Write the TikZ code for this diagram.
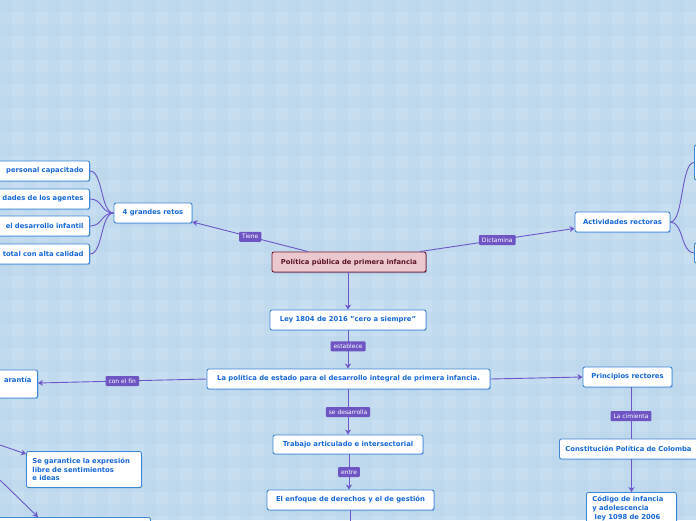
\documentclass[tikz,border=0pt]{standalone}
\usepackage{fontspec}
\setmainfont{DejaVu Sans}
\usetikzlibrary{arrows.meta,shadows,calc}
\definecolor{bgblue}{RGB}{198,222,240}
\definecolor{bandblue}{RGB}{165,198,226}
\definecolor{boxblue}{RGB}{62,135,215}
\definecolor{txtblue}{RGB}{22,104,214}
\definecolor{conn}{RGB}{108,86,200}
\definecolor{lblpurple}{RGB}{110,85,195}
\definecolor{rootfill}{RGB}{235,200,205}
\definecolor{rootdraw}{RGB}{120,30,50}
\definecolor{roottxt}{RGB}{90,20,38}
\tikzset{
  box/.style={draw=boxblue, fill=white, rounded corners=2pt, line width=0.9pt,
    minimum height=20pt, inner xsep=6pt, inner ysep=2pt,
    font=\fontsize{6.8}{8.6}\selectfont\bfseries, text=txtblue,
    drop shadow={shadow xshift=0.8pt, shadow yshift=-1pt, fill=boxblue, opacity=0.35}},
  rootbox/.style={box, draw=rootdraw, fill=rootfill, text=roottxt,
    drop shadow={shadow xshift=0.8pt, shadow yshift=-1pt, fill=rootdraw, opacity=0.3}},
  lbl/.style={fill=lblpurple, text=white, font=\fontsize{6}{6.5}\selectfont,
    inner xsep=3pt, inner ysep=1.5pt, minimum height=10pt, rounded corners=1pt},
  cn/.style={draw=conn, line width=0.9pt},
  arr/.style={cn, -{Stealth[length=5pt,width=6pt]}}
}
\begin{document}
\begin{tikzpicture}[x=1pt,y=-1pt]
\useasboundingbox (0,0) rectangle (696,520);
\clip (0,0) rectangle (696,520);
% background plaid
\fill[bgblue] (0,0) rectangle (696,520);
\foreach \i in {0,24,...,696} {
  \fill[bandblue, opacity=0.14] (\i,0) rectangle (\i+12,520);
}
\foreach \j in {0,24,...,520} {
  \fill[bandblue, opacity=0.14] (0,\j) rectangle (696,\j+12);
}

% nodes
\node[rootbox, minimum width=154pt] (root) at (349,262) {Política pública de primera infancia};
\node[box, minimum width=78pt] (retos) at (153,213) {4 grandes retos};
\node[box, anchor=east, text width=110pt, align=right] (a1) at (90,171) {personal capacitado};
\node[box, anchor=east, text width=110pt, align=right] (a2) at (90,199) {dades de los agentes};
\node[box, anchor=east, text width=110pt, align=right] (a3) at (90,226) {el desarrollo infantil};
\node[box, anchor=east, text width=110pt, align=right] (a4) at (90,254) {total con alta calidad};
\node[box, minimum width=95pt] (act) at (622.5,222) {Actividades rectoras};
\node[box, anchor=west, minimum width=40pt, minimum height=35pt] (r1) at (694,162.5) {};
\node[box, anchor=west, minimum width=40pt] (r2) at (694,253) {};
\node[box, minimum width=156pt] (ley) at (348,320) {Ley 1804 de 2016 "cero a siempre"};
\node[box, minimum width=283pt] (est) at (348.5,379) {La política de estado para el desarrollo integral de primera infancia.};
\node[box, anchor=east, text width=110pt, align=right, minimum height=28pt] (gar) at (38,384) {arantía\\\mbox{}};
\node[box, minimum width=89pt] (prin) at (627.5,377) {Principios rectores};
\node[box, anchor=west, minimum width=150pt, align=left, text width=138pt] (cons) at (559,449) {Constitución Política de Colomba};
\node[box, anchor=north west, minimum width=90pt, text width=78pt, align=left, inner ysep=4pt, font=\fontsize{6.8}{9}\selectfont\bfseries] (cod) at (586,492) {Código de infancia\\y adolescencia\\\ ley 1098 de 2006};
\node[box, minimum width=150pt, minimum height=19pt] (trab) at (348,444.5) {Trabajo articulado e intersectorial};
\node[box, minimum width=167pt] (enf) at (350.5,500) {El enfoque de derechos y el de gestión};
\node[box, anchor=north west, text width=103pt, align=left, minimum height=36pt, font=\fontsize{6.8}{8.4}\selectfont\bfseries] (seg) at (26,451) {Se garantice la expresión\\libre de sentimientos\\e ideas};
\node[box, anchor=north west, minimum width=160pt, minimum height=20pt] (bl) at (-10,517) {};

\coordinate (s1) at (0,445);
\coordinate (s2) at (0,480);
\coordinate (down) at (350,530);

% connectors
\draw[arr] ([xshift=-41pt]root.north) -- node[lbl]{Tiene} ([yshift=1.5pt]retos.south east);
\draw[arr] ([xshift=71pt]root.north) -- node[lbl]{Dictamina} ([yshift=4pt]act.south west);
\draw[arr] (root.south -| ley.north) -- (ley.north);
\draw[arr] (ley.south) -- node[lbl, pos=0.42]{establece} (est.north -| ley.south);
\draw[arr] (est.west) -- node[lbl]{con el fin} ([yshift=1pt]gar.east);
\draw[arr] (est.east) -- ([yshift=0pt]prin.west);
\draw[arr] (est.south -| trab.north) -- node[lbl, pos=0.5]{se desarrolla} (trab.north);
\draw[cn] ([xshift=3.5pt]prin.south) -- node[lbl, pos=0.56]{La cimienta} ([xshift=3.5pt]prin.south |- cons.north);
\draw[arr] (cod.north |- cons.south) -- (cod.north);
\draw[arr] (trab.south -| 349,0) -- node[lbl, pos=0.5]{entre} (enf.north -| 349,0);
\draw[cn] (enf.south -| down) -- (down);
\draw[arr] (s1) -- ([yshift=-3pt]seg.north west);
\draw[arr] (s2) -- ([xshift=48pt]bl.north west);

\foreach \n in {a1,a2,a3,a4} {
  \draw[cn] (retos.west) .. controls ($(retos.west)+(-13,0)$) and ($(\n.east)+(13,0)$) .. (\n.east);
}
\draw[cn] (act.east) .. controls ($(act.east)+(13,0)$) and ($(r1.west)+(-13,0)$) .. (r1.west);
\draw[cn] (act.east) .. controls ($(act.east)+(13,0)$) and ($(r2.west)+(-13,0)$) .. (r2.west);
\end{tikzpicture}
\end{document}
